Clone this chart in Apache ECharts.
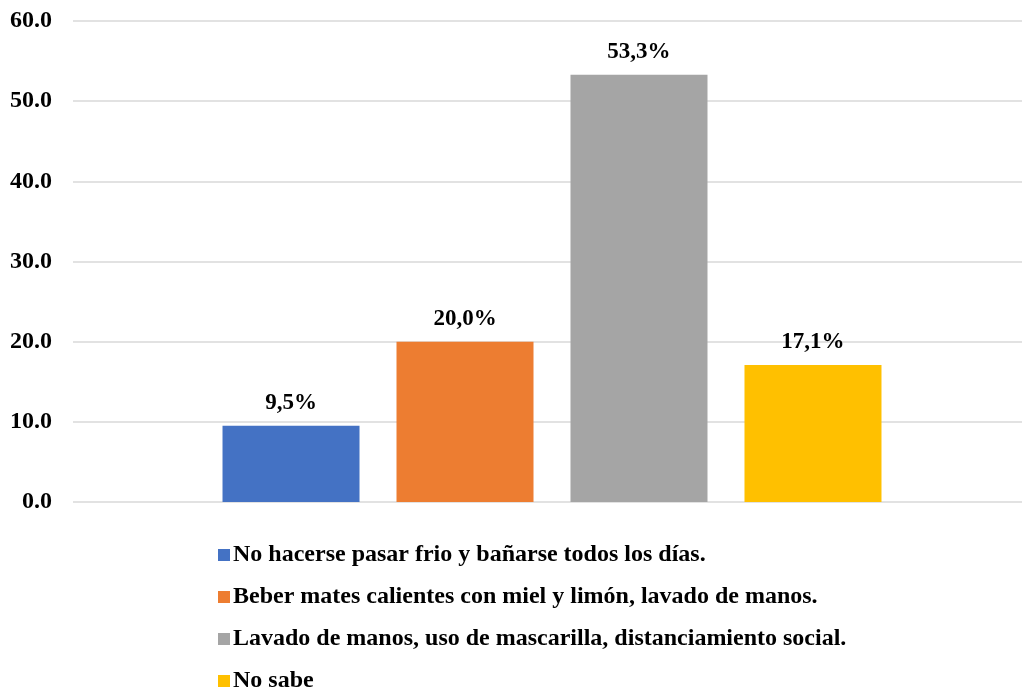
<!DOCTYPE html>
<html><head><meta charset="utf-8">
<script src="https://cdn.jsdelivr.net/npm/echarts@6/dist/echarts.min.js"></script>
<style>html,body{margin:0;padding:0;background:#fff;overflow:hidden}#c{width:1031px;height:690px}</style>
</head><body><div id="c"></div>
<script>
const seriesNames = [
  'No hacerse pasar frio y bañarse todos los días.',
  'Beber mates calientes con miel y limón, lavado de manos.',
  'Lavado de manos, uso de mascarilla, distanciamiento social.',
  'No sabe'
];
const seriesValues = [9.5, 20.0, 53.3, 17.1];
const seriesColors = ['#4472C4', '#ED7D31', '#A5A5A5', '#FFC000'];
const categories = [''];
const yTicks = { min: 0, max: 60, interval: 10 };

const font = '"Liberation Serif", "Times New Roman", serif';
const chart = echarts.init(document.getElementById('c'));
chart.setOption({
  animation: false,
  textStyle: { fontFamily: font },
  grid: { left: 73, right: 0, top: 21, bottom: 188 },
  xAxis: {
    type: 'category', data: categories,
    axisLine: { show: false }, axisTick: { show: false }, axisLabel: { show: false }
  },
  yAxis: {
    type: 'value', min: yTicks.min, max: yTicks.max, interval: yTicks.interval,
    axisLine: { show: false }, axisTick: { show: false },
    axisLabel: { formatter: v => v.toFixed(1), fontFamily: font, fontWeight: 'bold', fontSize: 24, color: '#000', margin: 21 },
    splitLine: { lineStyle: { color: '#d9d9d9', width: 1.5 } }
  },
  legend: {
    orient: 'vertical', left: 213, top: 538, height: 300, itemWidth: 12, itemHeight: 12, itemGap: 18,
    icon: 'rect',
    textStyle: { fontFamily: font, fontWeight: 'bold', fontSize: 24, color: '#000', padding: [0,0,0,-2] },
    data: seriesNames
  },
  series: seriesNames.map((n, i) => ({
    name: n, type: 'bar', data: [seriesValues[i]],
    barWidth: 137, barGap: '27%',
    itemStyle: { color: seriesColors[i] },
    label: { show: true, position: 'top', distance: 11, formatter: p => p.value.toFixed(1).replace('.', ',') + '%',
      fontFamily: font, fontWeight: 'bold', fontSize: 23, color: '#000' }
  }))
});
</script></body></html>
